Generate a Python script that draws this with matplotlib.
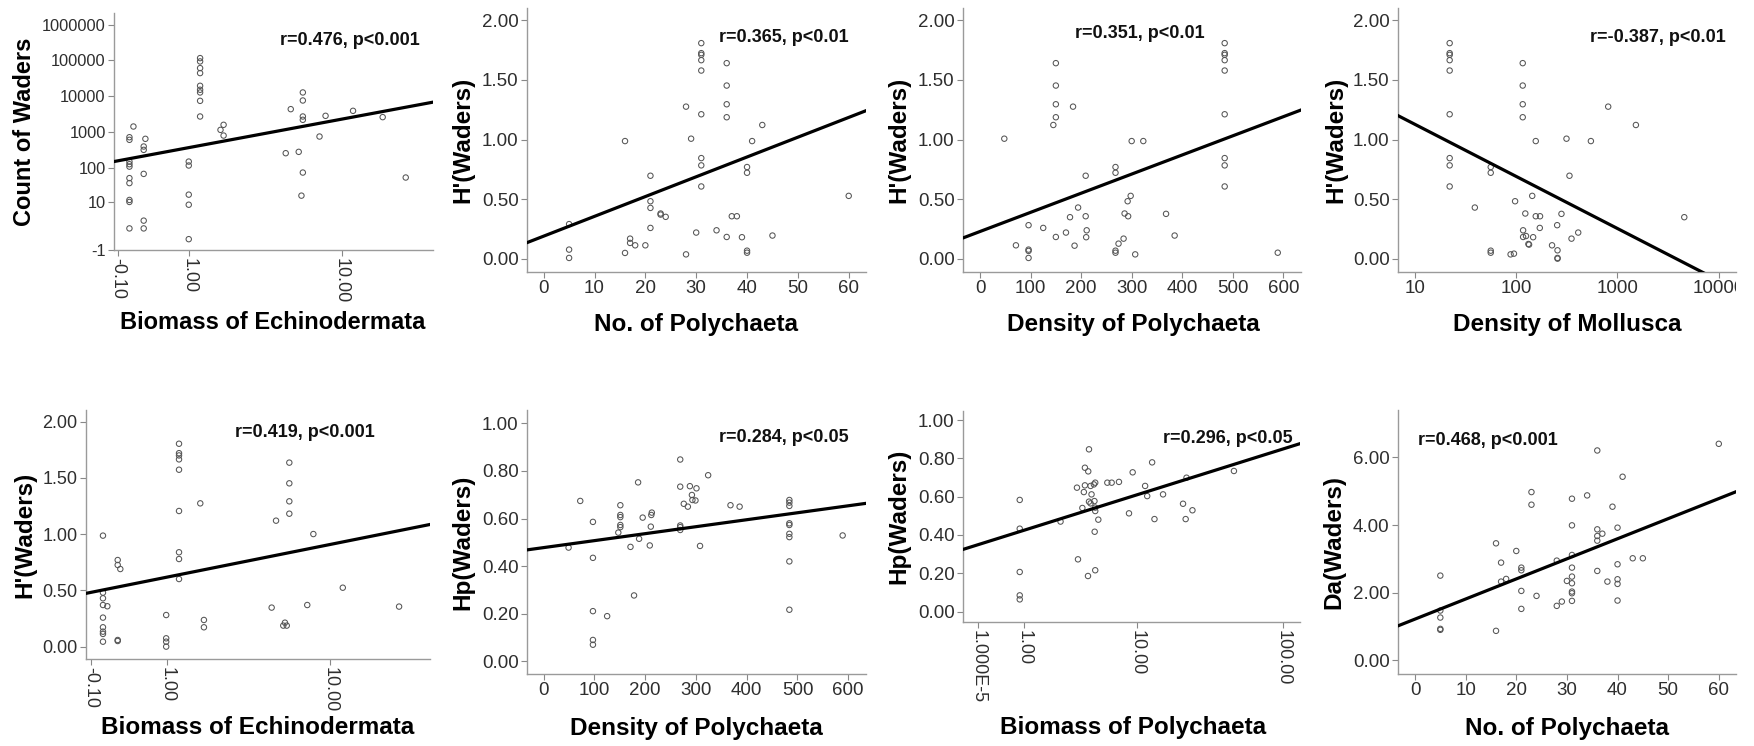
import numpy as np
import matplotlib
matplotlib.use('Agg')
import matplotlib.pyplot as plt
from matplotlib.transforms import Bbox, TransformedBbox

plt.rcParams['font.family'] = ['Liberation Sans', 'DejaVu Sans']

# ---- data ----
# panel 1: count of waders vs biomass of echinodermata
echino_x1 = [0.032, 0.032, 0.032, 0.032, 0.032, 0.032, 0.032, 0.032, 0.032, 0.032,
             0.079, 0.21, 0.21, 0.21, 0.21, 0.21, 0.233,
             1.0, 1.0, 1.0, 1.0, 1.0,
             1.27, 1.27, 1.27, 1.27, 1.27, 1.27, 1.27, 1.27, 1.27,
             1.85, 1.95, 1.95, 4.9, 5.24, 5.82, 6.03, 6.14, 6.14, 6.14, 6.14, 6.14,
             7.6, 8.2, 11.5, 16.4, 21.5]
count_waders = [1, 11.5, 10, 50, 36, 147, 124, 106, 710, 600,
                1415, 2.3, 1, 66, 390, 314, 640,
                0, 8.2, 16.6, 147, 114,
                2700, 7400, 12700, 15100, 19500, 44200, 61000, 93700, 116000,
                1140, 1580, 790, 253, 4330, 276, 15.5, 72, 2700, 2180, 7570, 12700,
                742, 2820, 3890, 2590, 52]

# panel 2: H'(Waders) vs No. of Polychaeta
h_waders = [0.29, 0.076, 0.006, 0.987, 0.048, 0.168, 0.132, 0.112, 0.112, 0.696,
            0.482, 0.426, 0.258, 0.379, 0.37, 0.351, 1.276, 0.036, 1.007, 0.219,
            1.809, 1.725, 1.711, 1.666, 1.579, 1.212, 0.844, 0.783, 0.606, 0.238,
            1.641, 1.453, 1.296, 1.187, 0.182, 0.356, 0.356, 0.180, 0.769, 0.721,
            0.067, 0.050, 0.987, 1.122, 0.194, 0.527]
no_polychaeta = [5, 5, 5, 16, 16, 17, 17, 18, 20, 21,
                 21, 21, 21, 23, 23, 24, 28, 28, 29, 30,
                 31, 31, 31, 31, 31, 31, 31, 31, 31, 34,
                 36, 36, 36, 36, 36, 37, 38, 39, 40, 40,
                 40, 40, 41, 43, 45, 60]

# panel 3
dens_poly_x3 = [484, 484, 484, 484, 484, 484, 484, 484, 484, 150, 150, 150, 150, 145,
                184, 48, 300, 323, 268, 268, 209, 298, 292, 194, 286, 293, 178, 209,
                368, 96, 125, 211, 170, 150, 210, 385, 284, 274, 71, 187, 96, 96, 96,
                268, 268, 307, 589]
h_dens_poly = [1.809, 1.725, 1.711, 1.666, 1.579, 1.212, 0.844, 0.783, 0.606, 1.641,
               1.453, 1.296, 1.187, 1.122, 1.276, 1.007, 0.987, 0.987, 0.769, 0.721,
               0.696, 0.527, 0.482, 0.429, 0.379, 0.356, 0.348, 0.356, 0.376, 0.281,
               0.258, 0.238, 0.219, 0.182, 0.180, 0.194, 0.168, 0.126, 0.112, 0.109,
               0.076, 0.065, 0.006, 0.067, 0.050, 0.036, 0.050]

# panel 4
dens_moll = [22, 22, 22, 22, 22, 22, 22, 22, 22, 116, 116, 116, 116, 811, 1523,
             156, 314, 547, 56, 56, 336, 144, 97.5, 39, 123, 280, 156, 172, 4580,
             254, 171, 117, 410, 117, 125, 147, 352, 132, 134, 226, 56, 56, 88, 95,
             256, 256, 256]
h_dens_moll = [1.809, 1.725, 1.711, 1.666, 1.579, 1.212, 0.844, 0.783, 0.606, 1.641,
               1.453, 1.296, 1.187, 1.276, 1.122, 0.987, 1.007, 0.987, 0.769, 0.721,
               0.696, 0.527, 0.482, 0.429, 0.379, 0.376, 0.356, 0.356, 0.348, 0.281,
               0.258, 0.238, 0.219, 0.182, 0.19, 0.180, 0.168, 0.123, 0.118, 0.112,
               0.067, 0.050, 0.036, 0.042, 0.07, 0.006, 0.0]

# panel 5
echino_x5 = [0.029, 0.029, 0.029, 0.029, 0.029, 0.029, 0.029, 0.029, 0.029, 0.077,
             0.2, 0.2, 0.233, 0.2, 0.2, 0.99, 0.99, 0.99, 0.99,
             1.275, 1.275, 1.275, 1.275, 1.275, 1.275, 1.275, 1.275, 1.275,
             1.84, 1.95, 1.95, 4.98, 5.26, 5.75, 6.0, 5.87,
             6.19, 6.19, 6.19, 6.19, 7.67, 8.24, 11.56, 21.6]
h_echino = [0.987, 0.48, 0.43, 0.37, 0.258, 0.172, 0.133, 0.113, 0.044, 0.359,
            0.77, 0.726, 0.69, 0.059, 0.05, 0.281, 0.074, 0.044, 0.0,
            1.804, 1.72, 1.70, 1.665, 1.573, 1.206, 0.839, 0.779, 0.601,
            1.274, 0.237, 0.172, 0.347, 1.12, 0.187, 0.187, 0.213,
            1.636, 1.452, 1.292, 1.182, 0.37, 1.001, 0.524, 0.356]

# panel 6
dens_poly_x6 = [49, 72, 97, 97, 97, 97, 97, 125, 147, 151, 151, 151, 151, 151, 171,
                178, 186, 188, 195, 209, 211, 212, 213, 269, 269, 269, 269, 269, 276,
                284, 288, 292, 293, 299, 301, 308, 324, 368, 386, 484, 484, 484, 484,
                484, 484, 484, 484, 484, 589]
hp_dens_poly = [0.478, 0.674, 0.586, 0.435, 0.211, 0.09, 0.07, 0.19, 0.541, 0.656,
                0.615, 0.606, 0.573, 0.564, 0.481, 0.277, 0.752, 0.515, 0.604, 0.487,
                0.566, 0.615, 0.625, 0.848, 0.734, 0.571, 0.564, 0.552, 0.662, 0.650,
                0.736, 0.699, 0.678, 0.676, 0.727, 0.485, 0.782, 0.656, 0.650, 0.678,
                0.667, 0.653, 0.58, 0.573, 0.536, 0.522, 0.42, 0.217, 0.529]

# panel 7
bio_poly = [0.87, 0.87, 0.87, 0.87, 0.87, 2.47, 3.52, 3.45, 4.02, 3.94, 4.02, 3.83,
            4.28, 4.34, 4.26, 4.47, 4.55, 4.34, 4.47, 4.75, 4.87, 4.8, 4.87, 4.87,
            4.82, 4.87, 5.15, 6.05, 6.53, 7.41, 8.79, 9.35, 11.5, 11.9, 12.9, 13.4,
            15.4, 21.2, 22.1, 22.4, 24.6, 47]
hp_bio_poly = [0.583, 0.433, 0.207, 0.085, 0.064, 0.47, 0.273, 0.647, 0.751, 0.624,
               0.659, 0.541, 0.732, 0.847, 0.186, 0.656, 0.612, 0.574, 0.565, 0.664,
               0.673, 0.577, 0.543, 0.525, 0.417, 0.216, 0.48, 0.673, 0.673, 0.677,
               0.513, 0.727, 0.656, 0.603, 0.779, 0.483, 0.612, 0.563, 0.483, 0.699,
               0.529, 0.734]

# panel 8
no_poly_x8 = [5, 5, 5, 5, 5, 16, 16, 17, 17, 18, 20, 21, 21, 21, 21, 23, 23, 24, 28,
              28, 29, 30, 31, 31, 31, 31, 31, 31, 31, 31, 31, 34, 36, 36, 36, 36, 37,
              36, 38, 39, 40, 40, 40, 40, 40, 41, 43, 45, 60]
da_waders = [2.507, 1.475, 1.268, 0.934, 0.905, 3.461, 0.875, 2.891, 2.33, 2.409,
             3.235, 2.743, 2.665, 2.055, 1.524, 4.975, 4.602, 1.908, 2.95, 1.613,
             1.74, 2.35, 4.779, 3.992, 3.117, 2.743, 2.478, 2.281, 2.035, 1.986, 1.76,
             4.877, 6.204, 3.874, 3.677, 3.54, 3.746, 2.645, 2.33, 4.543, 3.923, 2.842,
             2.399, 2.262, 1.77, 5.428, 3.019, 3.019, 6.401]

# fit lines (intercept, slope), in axis-transformed units
fit1 = (2.237, 1.075)
fit2 = (0.189, 0.01661)
fit3 = (0.228, 0.001606)
fit4 = (1.564, -0.4369)
fit5 = (0.499, 0.393)
fit6 = (0.478, 0.0002927)
fit7 = (0.350, 0.2489)
fit8 = (1.222, 0.05935)

stats = ['r=0.476, p<0.001', 'r=0.365, p<0.01', 'r=0.351, p<0.01', 'r=-0.387, p<0.01',
         'r=0.419, p<0.001', 'r=0.284, p<0.05', 'r=0.296, p<0.05', 'r=0.468, p<0.001']


# "safe log" axis like SPSS: sign(v) * log10(|v| + 1)
def fwd(v):
    v = np.asarray(v, dtype=float)
    return np.sign(v) * np.log10(np.abs(v) + 1)


def inv(v):
    v = np.asarray(v, dtype=float)
    return np.sign(v) * (10 ** np.abs(v) - 1)


W, H = 1754, 746
fig = plt.figure(figsize=(W / 100, H / 100), dpi=100)


def make_ax(l, r, t, b):
    return fig.add_axes([l / W, 1 - b / H, (r - l) / W, (b - t) / H])


def style(ax, tick_size=13.5):
    for s in ['top', 'right']:
        ax.spines[s].set_visible(False)
    for s in ['left', 'bottom']:
        ax.spines[s].set_color('#9a9a9a')
        ax.spines[s].set_linewidth(1.0)
    ax.tick_params(direction='out', length=4, width=0.8, color='#888888',
                   labelcolor='#2e2e2e', labelsize=tick_size, pad=2)


def dots(ax, x, y):
    ax.scatter(x, y, s=15, facecolors='none', edgecolors='#555555', linewidths=0.75, zorder=2)


def labels(ax, xl, yl, xc, yc, fs=17.5):
    ax.set_xlabel(xl, fontsize=fs, fontweight='bold', va='center')
    ax.set_ylabel(yl, fontsize=fs, fontweight='bold', va='center')
    ax.xaxis.set_label_coords(*xc)
    ax.yaxis.set_label_coords(*yc)


def stat(ax, s, x, y):
    ax.text(x, y, s, transform=ax.transAxes, ha='center', va='center',
            fontsize=13, fontweight='bold', color='#111111')


def fitline(ax, fit, xlim, xt=lambda v: v, yt=lambda v: v, xmap=lambda v: v):
    u = np.linspace(xt(xlim[0]), xt(xlim[1]), 300)
    ax.plot(xmap(u), yt(fit[0] + fit[1] * u), color='black', lw=2.3, zorder=3)


two_dec = [0, 0.5, 1.0, 1.5, 2.0]
two_lab = ['0.00', '0.50', '1.00', '1.50', '2.00']
hp_ticks = [0, 0.2, 0.4, 0.6, 0.8, 1.0]
hp_lab = ['0.00', '0.20', '0.40', '0.60', '0.80', '1.00']

# ---- panel 1 ----
ax = make_ax(114, 433, 13, 250)
style(ax)
ax.set_xscale('function', functions=(fwd, inv))
ax.set_yscale('function', functions=(fwd, inv))
xl = (-0.151, 29.5)
ax.set_xlim(xl)
ax.set_ylim(-1.009, 2.12e6)
dots(ax, echino_x1, count_waders)
fitline(ax, fit1, xl, xt=fwd, yt=inv, xmap=inv)
ax.set_xticks([-0.1, 1, 10])
ax.set_xticklabels(['-0.10', '1.00', '10.00'], rotation=-90)
ax.set_yticks([-1, 10, 100, 1000, 10000, 100000, 1000000])
ax.set_yticklabels(['-1', '10', '100', '1000', '10000', '100000', '1000000'])
ax.tick_params(axis='y', labelsize=11.8)
ax.tick_params(axis='x', labelsize=13)
labels(ax, 'Biomass of Echinodermata', 'Count of Waders', (0.498, -0.308), (-0.279, 0.5), fs=17)
stat(ax, stats[0], 0.74, 0.886)

# ---- panel 2 ----
ax = make_ax(527, 866, 8, 272)
style(ax)
xl = (-3.28, 63.4)
ax.set_xlim(xl)
ax.set_ylim(-0.112, 2.104)
dots(ax, no_polychaeta, h_waders)
fitline(ax, fit2, xl)
ax.set_xticks(range(0, 61, 10))
ax.set_yticks(two_dec)
ax.set_yticklabels(two_lab)
labels(ax, 'No. of Polychaeta', "H'(Waders)", (0.499, -0.20), (-0.189, 0.5))
stat(ax, stats[1], 0.758, 0.89)

# ---- panel 3 ----
ax = make_ax(963, 1301, 8, 272)
style(ax)
xl = (-33.7, 635)
ax.set_xlim(xl)
ax.set_ylim(-0.112, 2.104)
dots(ax, dens_poly_x3, h_dens_poly)
fitline(ax, fit3, xl)
ax.set_xticks(range(0, 601, 100))
ax.set_yticks(two_dec)
ax.set_yticklabels(two_lab)
labels(ax, 'Density of Polychaeta', "H'(Waders)", (0.503, -0.20), (-0.189, 0.5))
stat(ax, stats[2], 0.524, 0.905)

# ---- panel 4 ----
ax = make_ax(1398, 1736, 8, 272)
style(ax)
ax.set_xscale('log')
xl = (6.79, 14860)
ax.set_xlim(xl)
ax.set_ylim(-0.112, 2.104)
dots(ax, dens_moll, h_dens_moll)
fitline(ax, fit4, xl, xt=np.log10, xmap=lambda u: 10 ** u)
ax.set_xticks([10, 100, 1000, 10000])
tl = ax.set_xticklabels(['10', '100', '1000', '10000'])
ax.minorticks_off()
# the last label is cut at the panel edge in the original
tl[-1].set_clip_box(TransformedBbox(Bbox([[0, 0], [1736 / W, 1]]), fig.transFigure))
tl[-1].set_clip_on(True)
ax.set_yticks(two_dec)
ax.set_yticklabels(two_lab)
labels(ax, 'Density of Mollusca', "H'(Waders)", (0.5, -0.20), (-0.183, 0.5))
stat(ax, stats[3], 0.77, 0.89)

# ---- panel 5 ----
ax = make_ax(86, 430, 410, 659)
style(ax, 13)
ax.set_xscale('function', functions=(fwd, inv))
xl = (-0.16, 30.2)
ax.set_xlim(xl)
ax.set_ylim(-0.11, 2.104)
dots(ax, echino_x5, h_echino)
fitline(ax, fit5, xl, xt=fwd, xmap=inv)
ax.set_xticks([-0.1, 1, 10])
ax.set_xticklabels(['-0.10', '1.00', '10.00'], rotation=-90)
ax.set_yticks(two_dec)
ax.set_yticklabels(two_lab)
labels(ax, 'Biomass of Echinodermata', "H'(Waders)", (0.5, -0.277), (-0.177, 0.5))
stat(ax, stats[4], 0.637, 0.908)

# ---- panel 6 ----
ax = make_ax(527, 866, 410, 674)
style(ax)
xl = (-32.9, 635)
ax.set_xlim(xl)
ax.set_ylim(-0.053, 1.056)
dots(ax, dens_poly_x6, hp_dens_poly)
fitline(ax, fit6, xl)
ax.set_xticks(range(0, 601, 100))
ax.set_yticks(hp_ticks)
ax.set_yticklabels(hp_lab)
labels(ax, 'Density of Polychaeta', 'Hp(Waders)', (0.5, -0.205), (-0.189, 0.5))
stat(ax, stats[5], 0.758, 0.894)

# ---- panel 7 ----
ax = make_ax(963, 1300, 411, 622)
style(ax)
ax.set_xscale('function', functions=(fwd, inv))
xl = (-0.263, 129.6)
ax.set_xlim(xl)
ax.set_ylim(-0.054, 1.047)
dots(ax, bio_poly, hp_bio_poly)
fitline(ax, fit7, xl, xt=fwd, xmap=inv)
ax.set_xticks([1e-5, 1, 10, 100])
ax.set_xticklabels(['1.000E-5', '1.00', '10.00', '100.00'], rotation=-90)
ax.tick_params(axis='x', labelsize=13)
ax.set_yticks(hp_ticks)
ax.set_yticklabels(hp_lab)
labels(ax, 'Biomass of Polychaeta', 'Hp(Waders)', (0.504, -0.50), (-0.19, 0.5))
stat(ax, stats[6], 0.786, 0.872)

# ---- panel 8 ----
ax = make_ax(1398, 1736, 410, 674)
style(ax)
xl = (-3.36, 63.4)
ax.set_xlim(xl)
ax.set_ylim(-0.40, 7.40)
dots(ax, no_poly_x8, da_waders)
fitline(ax, fit8, xl)
ax.set_xticks(range(0, 61, 10))
ax.set_yticks([0, 2, 4, 6])
ax.set_yticklabels(['0.00', '2.00', '4.00', '6.00'])
labels(ax, 'No. of Polychaeta', 'Da(Waders)', (0.5, -0.205), (-0.189, 0.5))
stat(ax, stats[7], 0.266, 0.886)

fig.savefig('out.png', dpi=100, facecolor='white')
